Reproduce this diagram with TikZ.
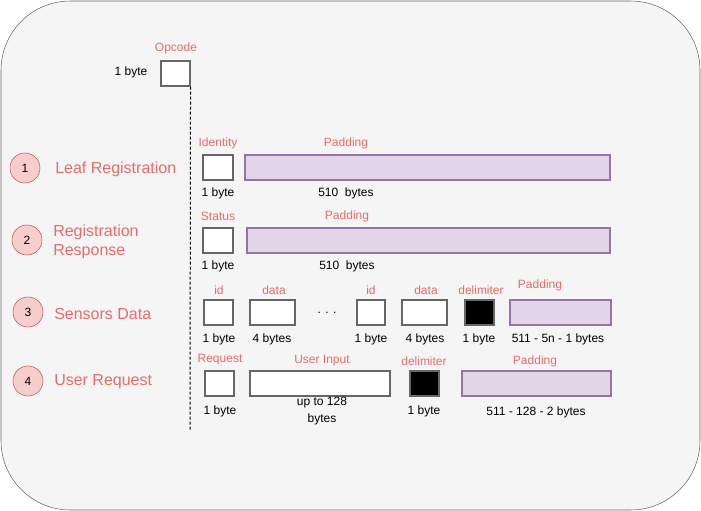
\documentclass[tikz,border=0pt]{standalone}
\usepackage{fontspec}
\setmainfont{Liberation Sans}
\definecolor{lblred}{HTML}{EA6B66}
\definecolor{circfill}{HTML}{F8CECC}
\definecolor{circline}{HTML}{B85450}
\definecolor{padfill}{HTML}{E1D5E7}
\definecolor{padline}{HTML}{9673A6}
\definecolor{bgfill}{HTML}{F5F5F5}
\tikzset{
    field/.style={draw=black!60, fill=white, line width=0.8pt, inner sep=0pt, minimum height=18.75pt},
    padbox/.style={draw=padline, fill=padfill, line width=0.8pt, inner sep=0pt, minimum height=18.75pt},
    delim/.style={draw=black!60, fill=black, line width=0.8pt, inner sep=0pt, minimum height=18.75pt},
    numcirc/.style={circle, draw=circline, fill=circfill, inner sep=0pt, minimum size=22.5pt, font=\fontsize{9}{10}\selectfont},
    fname/.style={text=lblred, font=\fontsize{9}{10}\selectfont},
    size/.style={font=\fontsize{9}{12.75}\selectfont},
    msgname/.style={text=lblred, anchor=west, inner sep=0pt, font=\fontsize{12}{14.25}\selectfont}
}
\begin{document}
\begin{tikzpicture}[x=0.75pt, y=-0.75pt]

\useasboundingbox (0,0) rectangle (701,511);
\draw[draw=black!60, fill=bgfill, rounded corners=52pt] (1,1) rectangle (700,510);

% opcode
\node[fname] (opname) at (176,48) {Opcode};
\node[field, minimum width=21.75pt] (op) at (175.5,73.5) {};
\node[size] (opsize) at (131,72) {1 byte};
\coordinate (lineend) at (190,430);
\draw[dash pattern=on 2.25pt off 1.5pt, line width=0.75pt] (op.south east) -- (lineend);

% message 1
\node[numcirc] (c1) at (25,168) {1};
\node[msgname] (m1) at (55,169) {Leaf Registration};
\node[fname] (idn1) at (218,143) {Identity};
\node[field, minimum width=22.5pt] (idb1) at (218,167.5) {};
\node[size] (ids1) at (218,193) {1 byte};
\node[fname] (padn1) at (346,143) {Padding};
\node[padbox, minimum width=273.75pt] (padb1) at (427.5,167.5) {};
\node[size] (pads1) at (346,193) {510~ bytes};

% message 2
\node[numcirc] (c2) at (27,240) {2};
\node[msgname, align=left] (m2) at (53,241.5) {Registration\\Response};
\node[fname] (stn2) at (218,216) {Status};
\node[field, minimum width=22.5pt] (stb2) at (218,240.5) {};
\node[size] (sts2) at (218,266) {1 byte};
\node[fname] (padn2) at (347,216) {Padding};
\node[padbox, minimum width=272.25pt] (padb2) at (428.5,240.5) {};
\node[size] (pads2) at (347,266) {510~ bytes};

% message 3
\node[numcirc] (c3) at (28,312) {3};
\node[msgname] (m3) at (54,314) {Sensors Data};
\node[fname] (idn3) at (219,290) {id};
\node[field, minimum width=21.75pt] (idb3) at (218.5,312.5) {};
\node[size] (ids3) at (219,339) {1 byte};
\node[fname] (dan3) at (274,290) {data};
\node[field, minimum width=33.75pt] (dab3) at (272.5,312.5) {};
\node[size] (das3) at (272,339) {4 bytes};
\node[size] (dots3) at (327,313) {. . .};
\node[fname] (idn3b) at (371,290) {id};
\node[field, minimum width=21pt] (idb3b) at (371,312.5) {};
\node[size] (ids3b) at (371,339) {1 byte};
\node[fname] (dan3b) at (426,290) {data};
\node[field, minimum width=33.75pt] (dab3b) at (424.5,312.5) {};
\node[size] (das3b) at (425,339) {4 bytes};
\node[fname] (den3) at (481,290) {delimiter};
\node[delim, minimum width=21.75pt] (deb3) at (479.5,312.5) {};
\node[size] (des3) at (479,339) {1 byte};
\node[fname] (padn3) at (540,285) {Padding};
\node[padbox, minimum width=75.75pt] (padb3) at (560.5,312.5) {};
\node[size] (pads3) at (558,339) {511 - 5n - 1 bytes};

% message 4
\node[numcirc] (c4) at (28,381) {4};
\node[msgname] (m4) at (54,382) {User Request};
\node[fname] (rqn4) at (220,360) {Request};
\node[field, minimum width=21.75pt] (rqb4) at (219.5,383.5) {};
\node[size] (rqs4) at (220,411) {1 byte};
\node[fname] (uin4) at (322,361) {User Input};
\node[field, minimum width=105pt] (uib4) at (320,383.5) {};
\node[size, align=center] (uis4) at (322,411) {up to 128\\bytes};
\node[fname] (den4) at (424,361) {delimiter};
\node[delim, minimum width=21.75pt] (deb4) at (424.5,383.5) {};
\node[size] (des4) at (424,411) {1 byte};
\node[fname] (padn4) at (535,361) {Padding};
\node[padbox, minimum width=111.75pt] (padb4) at (536.5,383.5) {};
\node[size] (pads4) at (536,412) {511 - 128 - 2 bytes};

\end{tikzpicture}
\end{document}
